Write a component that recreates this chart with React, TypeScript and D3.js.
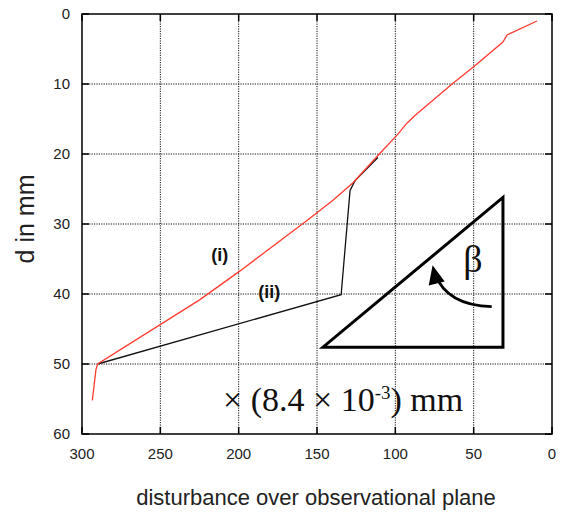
import { useEffect, useRef } from "react";
import * as d3 from "d3";

// curve (i), red
const redX = [293.4, 291.1, 290.0, 224.7, 199.1, 156.4, 139.8, 127.0, 109.8, 98.9, 92.6, 87.5, 63.2, 50.4, 31.3, 28.7, 9.6];
const redD = [55.2, 50.8, 50.0, 40.8, 36.7, 29.5, 26.6, 24.1, 19.9, 17.3, 15.6, 14.5, 9.9, 7.6, 4.0, 3.0, 1.0];
// curve (ii), black
const blackX = [290.0, 134.6, 128.9, 125.7, 111.1];
const blackD = [50.0, 40.1, 25.2, 23.8, 20.5];

const xTicks = [300, 250, 200, 150, 100, 50, 0];
const yTicks = [0, 10, 20, 30, 40, 50, 60];

// wedge sketch (in data units)
const wedgeX = [146.2, 31.3, 31.3];
const wedgeD = [47.6, 47.6, 26.2];

export default function App() {
    const ref = useRef<SVGSVGElement>(null);
    const width = 562;
    const height = 512;

    useEffect(() => {
        const svg = d3.select(ref.current);
        svg.selectAll("*").remove();

        const left = 82, right = 552, top = 14, bottom = 434;

        const x = d3.scaleLinear().domain([300, 0]).range([left, right]);
        const y = d3.scaleLinear().domain([0, 60]).range([top, bottom]);

        const g = svg.append("g");

        // dotted grid
        g.selectAll(".vgrid")
            .data(xTicks.slice(1, -1))
            .enter().append("line")
            .attr("x1", d => x(d)).attr("x2", d => x(d))
            .attr("y1", top).attr("y2", bottom)
            .attr("stroke", "#111").attr("stroke-width", 1)
            .attr("stroke-dasharray", "1.2,1.2");
        g.selectAll(".hgrid")
            .data(yTicks.slice(1, -1))
            .enter().append("line")
            .attr("x1", left).attr("x2", right)
            .attr("y1", d => y(d)).attr("y2", d => y(d))
            .attr("stroke", "#111").attr("stroke-width", 1)
            .attr("stroke-dasharray", "1.2,1.2");

        // inward ticks on all sides
        const tl = 7;
        xTicks.forEach(t => {
            g.append("line").attr("x1", x(t)).attr("x2", x(t)).attr("y1", bottom).attr("y2", bottom - tl)
                .attr("stroke", "#000").attr("stroke-width", 1.5);
            g.append("line").attr("x1", x(t)).attr("x2", x(t)).attr("y1", top).attr("y2", top + tl)
                .attr("stroke", "#000").attr("stroke-width", 1.5);
        });
        yTicks.forEach(t => {
            g.append("line").attr("x1", left).attr("x2", left + tl).attr("y1", y(t)).attr("y2", y(t))
                .attr("stroke", "#000").attr("stroke-width", 1.5);
            g.append("line").attr("x1", right).attr("x2", right - tl).attr("y1", y(t)).attr("y2", y(t))
                .attr("stroke", "#000").attr("stroke-width", 1.5);
        });

        // frame
        g.append("rect")
            .attr("x", left).attr("y", top)
            .attr("width", right - left).attr("height", bottom - top)
            .attr("fill", "none").attr("stroke", "#000").attr("stroke-width", 1.5);

        // tick labels
        g.selectAll(".xlab")
            .data(xTicks)
            .enter().append("text")
            .attr("x", d => x(d)).attr("y", bottom + 25)
            .attr("text-anchor", "middle")
            .attr("font-family", "Liberation Sans, Arial, sans-serif")
            .attr("font-size", 15).attr("fill", "#222")
            .text(d => d);
        g.selectAll(".ylab")
            .data(yTicks)
            .enter().append("text")
            .attr("x", left - 12).attr("y", d => y(d) + 5)
            .attr("text-anchor", "end")
            .attr("font-family", "Liberation Sans, Arial, sans-serif")
            .attr("font-size", 15).attr("fill", "#222")
            .text(d => d);

        // axis titles
        g.append("text")
            .attr("x", (left + right) / 2 - 1).attr("y", 505)
            .attr("text-anchor", "middle")
            .attr("font-family", "Liberation Sans, Arial, sans-serif")
            .attr("font-size", 22).attr("fill", "#222")
            .text("disturbance over observational plane");
        g.append("text")
            .attr("transform", "translate(34,219) rotate(-90)")
            .attr("text-anchor", "middle")
            .attr("font-family", "Liberation Sans, Arial, sans-serif")
            .attr("font-size", 25).attr("fill", "#222")
            .text("d in mm");

        // curves
        const line = d3.line<number>()
            .x(i => x(i[0]))
            .y(i => y(i[1]));
        g.append("path")
            .datum(blackX.map((v, i) => [v, blackD[i]]) as any)
            .attr("fill", "none").attr("stroke", "#111").attr("stroke-width", 1.3)
            .attr("d", line as any);
        g.append("path")
            .datum(redX.map((v, i) => [v, redD[i]]) as any)
            .attr("fill", "none").attr("stroke", "#ff3b30").attr("stroke-width", 1.3)
            .attr("d", line as any);

        // curve labels
        g.append("text")
            .attr("x", x(212)).attr("y", y(35.3))
            .attr("text-anchor", "middle")
            .attr("font-family", "Liberation Sans, Arial, sans-serif")
            .attr("font-weight", "bold").attr("font-size", 18).attr("fill", "#111")
            .text("(i)");
        g.append("text")
            .attr("x", x(180.5)).attr("y", y(40.5))
            .attr("text-anchor", "middle")
            .attr("font-family", "Liberation Sans, Arial, sans-serif")
            .attr("font-weight", "bold").attr("font-size", 18).attr("fill", "#111")
            .text("(ii)");

        // wedge with angle beta
        g.append("path")
            .datum(wedgeX.map((v, i) => [v, wedgeD[i]]) as any)
            .attr("fill", "none").attr("stroke", "#000").attr("stroke-width", 3)
            .attr("stroke-linejoin", "miter")
            .attr("d", (d: any) => line(d) + "Z");
        g.append("text")
            .attr("x", x(50.4)).attr("y", y(35.2) + 12)
            .attr("text-anchor", "middle")
            .attr("font-family", "Liberation Serif, Times New Roman, serif")
            .attr("font-size", 38).attr("fill", "#111")
            .text("β");
        const a0 = [x(38.5), y(41.8)];
        const ac = [x(67), y(41.6)];
        const a1 = [x(74.5), y(37.2)];
        g.append("path")
            .attr("d", `M${a0[0]},${a0[1]} Q${ac[0]},${ac[1]} ${a1[0]},${a1[1]}`)
            .attr("fill", "none").attr("stroke", "#000").attr("stroke-width", 2.8);
        const tip = [x(76.2), y(35.9)];
        g.append("path")
            .attr("d", `M${tip[0]},${tip[1]} L${x(78.7)},${y(38.8)} L${x(68.5)},${y(38.2)} Z`)
            .attr("fill", "#000");

        // scale factor note
        const note = g.append("text")
            .attr("x", x(210)).attr("y", y(56.7))
            .attr("font-family", "Liberation Serif, Times New Roman, serif")
            .attr("font-size", 34).attr("fill", "#111");
        note.append("tspan").text("× (8.4 × 10");
        note.append("tspan").attr("font-size", 19).attr("dy", -12).text("-3");
        note.append("tspan").attr("dy", 12).text(") mm");
    }, []);

    return (
        <svg
            ref={ref}
            width={width}
            height={height}
            style={{ position: "absolute", left: 0, top: 0, background: "#fff" }}
        />
    );
}
